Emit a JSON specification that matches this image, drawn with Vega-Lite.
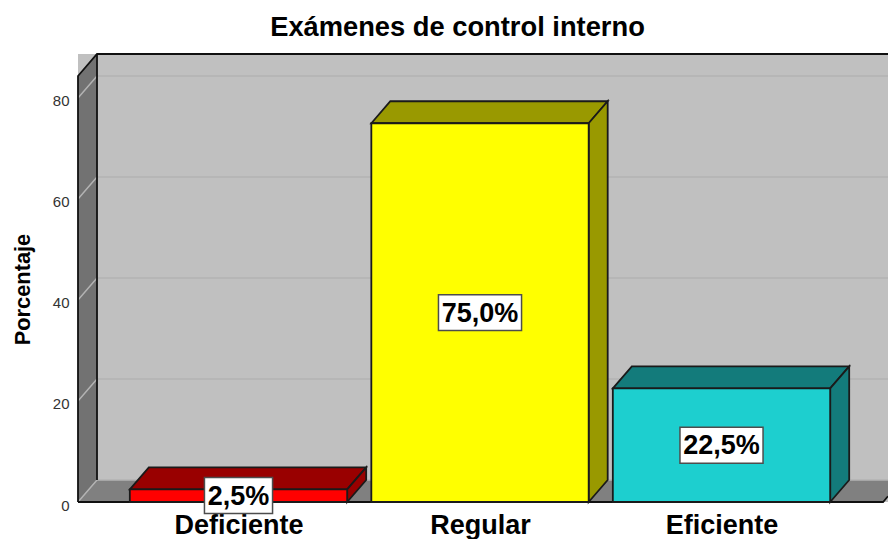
{
"$schema":"https://vega.github.io/schema/vega-lite/v6.json",
"width":810,"height":448,
"autosize":{"type":"none"},
"padding":{"left":78,"top":54,"right":0,"bottom":37},
"background":"#ffffff",
"view":{"fill":"#c0c0c0","stroke":null},
"title":{"text":"Exámenes de control interno","font":"Liberation Sans","fontSize":27.3,"fontWeight":"bold","color":"#000000","anchor":"middle","frame":"group","dx":-25.5,"offset":9},
"datasets":{
"barras":[
{"categoria":"Deficiente","desde":0.55,"hasta":1.45,"porcentaje":2.5},
{"categoria":"Regular","desde":1.55,"hasta":2.45,"porcentaje":75.0},
{"categoria":"Eficiente","desde":2.55,"hasta":3.45,"porcentaje":22.5}],
"etiquetas":[
{"indice":1,"mitad":1.25,"texto":"2,5%","x0":0.859,"x1":1.141,"y0":-2.3,"y1":4.83},
{"indice":2,"mitad":37.5,"texto":"75,0%","x0":1.828,"x1":2.172,"y0":33.94,"y1":41.06},
{"indice":3,"mitad":11.25,"texto":"22,5%","x0":2.828,"x1":3.172,"y0":7.69,"y1":14.81}],
"paredes":[
{"cara":"pared","tono":"pared","x":0.3354,"y":0,"y2":84.36},
{"cara":"pared","tono":"pared","x":0.4141,"y":4.35,"y2":88.71},
{"cara":"suelo","tono":"suelo","x":0.3354,"y":0,"y2":0},
{"cara":"suelo","tono":"suelo","x":0.4141,"y":0,"y2":4.35},
{"cara":"suelo","tono":"suelo","x":3.669,"y":0,"y2":4.35},
{"cara":"suelo","tono":"suelo","x":3.6894,"y":1.145,"y2":4.35}],
"rejilla":[
{"v":0,"x":0.3354,"y":0},{"v":0,"x":0.4141,"y":4.35},{"v":0,"x":3.6894,"y":4.35},
{"v":20,"x":0.3354,"y":20},{"v":20,"x":0.4141,"y":24.35},{"v":20,"x":3.6894,"y":24.35},
{"v":40,"x":0.3354,"y":40},{"v":40,"x":0.4141,"y":44.35},{"v":40,"x":3.6894,"y":44.35},
{"v":60,"x":0.3354,"y":60},{"v":60,"x":0.4141,"y":64.35},{"v":60,"x":3.6894,"y":64.35},
{"v":80,"x":0.3354,"y":80},{"v":80,"x":0.4141,"y":84.35},{"v":80,"x":3.6894,"y":84.35}],
"bordes":[
{"b":"a","o":1,"x":0.3354,"y":0},{"b":"a","o":2,"x":0.3354,"y":84.36},{"b":"a","o":3,"x":0.4141,"y":88.71},{"b":"a","o":4,"x":3.6894,"y":88.71},
{"b":"b","o":1,"x":0.4141,"y":88.71},{"b":"b","o":2,"x":0.4141,"y":4.35},
{"b":"c","o":1,"x":0.3354,"y":0},{"b":"c","o":2,"x":3.669,"y":0},{"b":"c","o":3,"x":3.6894,"y":1.145}],
"caras":[
{"cara":"D sup","tono":"Deficiente oscuro","x":0.55,"y":2.5,"y2":2.5},
{"cara":"D sup","tono":"Deficiente oscuro","x":0.6287,"y":2.5,"y2":6.85},
{"cara":"D sup","tono":"Deficiente oscuro","x":1.45,"y":2.5,"y2":6.85},
{"cara":"D sup","tono":"Deficiente oscuro","x":1.5287,"y":6.85,"y2":6.85},
{"cara":"D lat","tono":"Deficiente oscuro","x":1.45,"y":0,"y2":2.5},
{"cara":"D lat","tono":"Deficiente oscuro","x":1.5287,"y":4.35,"y2":6.85},
{"cara":"R sup","tono":"Regular oscuro","x":1.55,"y":75,"y2":75},
{"cara":"R sup","tono":"Regular oscuro","x":1.6287,"y":75,"y2":79.35},
{"cara":"R sup","tono":"Regular oscuro","x":2.45,"y":75,"y2":79.35},
{"cara":"R sup","tono":"Regular oscuro","x":2.5287,"y":79.35,"y2":79.35},
{"cara":"R lat","tono":"Regular oscuro","x":2.45,"y":0,"y2":75},
{"cara":"R lat","tono":"Regular oscuro","x":2.5287,"y":4.35,"y2":79.35},
{"cara":"E sup","tono":"Eficiente oscuro","x":2.55,"y":22.5,"y2":22.5},
{"cara":"E sup","tono":"Eficiente oscuro","x":2.6287,"y":22.5,"y2":26.85},
{"cara":"E sup","tono":"Eficiente oscuro","x":3.45,"y":22.5,"y2":26.85},
{"cara":"E sup","tono":"Eficiente oscuro","x":3.5287,"y":26.85,"y2":26.85},
{"cara":"E lat","tono":"Eficiente oscuro","x":3.45,"y":0,"y2":22.5},
{"cara":"E lat","tono":"Eficiente oscuro","x":3.5287,"y":4.35,"y2":26.85}]
},
"encoding":{
"x":{"type":"quantitative","scale":{"domain":[0.3354,3.6894],"nice":false,"zero":false},
"axis":{"values":[1,2,3],"labelExpr":"datum.value==1?'Deficiente':datum.value==2?'Regular':'Eficiente'","title":null,"grid":false,"domain":false,"ticks":false,"labelFont":"Liberation Sans","labelFontSize":27,"labelFontWeight":"bold","labelColor":"#000000","labelPadding":10,"labelOverlap":false,"labelBound":false,"labelFlush":false}},
"y":{"type":"quantitative","scale":{"domain":[0,88.71],"nice":false,"zero":false},
"axis":{"values":[0,20,40,60,80],"title":"Porcentaje","titleFont":"Liberation Sans","titleFontSize":21.8,"titleFontWeight":"bold","titleColor":"#000000","titleX":-56,"titleY":235,"titleAngle":-90,"titleAlign":"center","titleBaseline":"middle","grid":false,"domain":false,"ticks":false,"labelFont":"Liberation Sans","labelFontSize":15,"labelColor":"#333333","labelPadding":9,"labelOffset":3,"labelOverlap":false}}
},
"layer":[
{"data":{"name":"paredes"},"mark":{"type":"area"},
"encoding":{"x":{"field":"x","type":"quantitative"},"y":{"field":"y","type":"quantitative","stack":null},"y2":{"field":"y2"},"detail":{"field":"cara"},
"color":{"field":"tono","type":"nominal","legend":null,"scale":{"domain":["pared","suelo","Deficiente","Regular","Eficiente","Deficiente oscuro","Regular oscuro","Eficiente oscuro"],"range":["#727272","#808080","#ff0000","#ffff00","#1dcfcf","#990000","#999900","#137b7b"]}}}},
{"data":{"name":"rejilla"},"mark":{"type":"line","color":"#b3b3b3","strokeWidth":1.5},
"encoding":{"x":{"field":"x","type":"quantitative"},"y":{"field":"y","type":"quantitative"},"detail":{"field":"v"}}},
{"data":{"name":"bordes"},"mark":{"type":"line","color":"#111111","strokeWidth":1.8},
"encoding":{"x":{"field":"x","type":"quantitative"},"y":{"field":"y","type":"quantitative"},"detail":{"field":"b"},"order":{"field":"o"}}},
{"data":{"name":"caras"},"mark":{"type":"area","stroke":"#1a1a1a","strokeWidth":1.8},
"encoding":{"x":{"field":"x","type":"quantitative"},"y":{"field":"y","type":"quantitative","stack":null},"y2":{"field":"y2"},"detail":{"field":"cara"},
"color":{"field":"tono","type":"nominal","legend":null}}},
{"data":{"name":"barras"},"mark":{"type":"rect","stroke":"#1a1a1a","strokeWidth":1.8},
"encoding":{"x":{"field":"desde","type":"quantitative"},"x2":{"field":"hasta"},"y":{"field":"porcentaje","type":"quantitative"},"y2":{"datum":0},
"color":{"field":"categoria","type":"nominal","legend":null}}},
{"data":{"name":"etiquetas"},"mark":{"type":"rect","fill":"#ffffff","stroke":"#4d4d4d","strokeWidth":1.5,"clip":false},
"encoding":{"x":{"field":"x0","type":"quantitative"},"x2":{"field":"x1"},"y":{"field":"y0","type":"quantitative"},"y2":{"field":"y1"}}},
{"data":{"name":"etiquetas"},"mark":{"type":"text","font":"Liberation Sans","fontSize":27,"fontWeight":"bold","color":"#000000","align":"center","baseline":"middle","dy":1},
"encoding":{"x":{"field":"indice","type":"quantitative"},"y":{"field":"mitad","type":"quantitative"},"text":{"field":"texto"}}}
]
}
